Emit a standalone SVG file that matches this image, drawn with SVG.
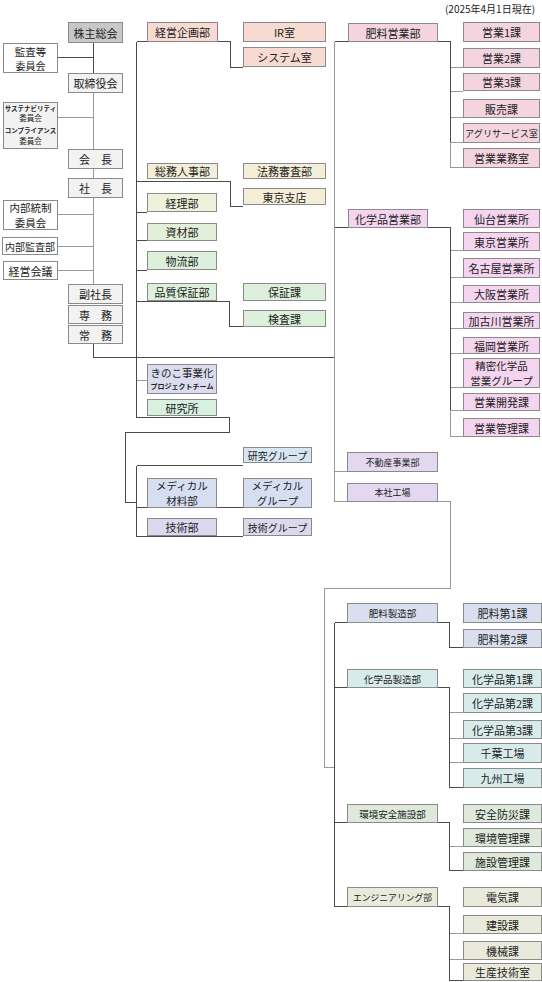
<svg xmlns="http://www.w3.org/2000/svg" width="542" height="982" viewBox="0 0 542 982">
<style>
rect{stroke:#8a8a8a;stroke-width:1;shape-rendering:crispEdges}
text{font-family:"Noto Sans CJK JP","Noto Sans CJK SC",sans-serif;font-size:11px;fill:#222;text-anchor:middle;dominant-baseline:central}
.s9{font-size:9px}.s95{font-size:9.5px}.s10{font-size:10px}.s7{font-size:6.5px;font-weight:bold}.t2{font-size:10.5px}
.d{stroke:#4a4a4a;stroke-width:1;fill:none;shape-rendering:crispEdges}
.g{stroke:#9a9a9a;stroke-width:1;fill:none;shape-rendering:crispEdges}
.gy{fill:#f2f2f2}.wh{fill:#ffffff}
.pk1{fill:#f7dbd3}.cr{fill:#f4eed8}.yg{fill:#eef2da}.lg1{fill:#e3efd8}.lg2{fill:#dcf0dc}
.lv{fill:#dcdcf0}.rg{fill:#d8f0e0}.lb{fill:#d8e6f3}.md{fill:#d8def2}.tg{fill:#dcd8ef}
.pk2{fill:#f3d4df}.mg{fill:#f4d4ee}.pu{fill:#e3d8ef}.hb{fill:#d9dfee}.cy{fill:#d8ebeb}.ge{fill:#dee9dc}.be{fill:#e9eadc}
</style>
<rect x="0" y="0" width="542" height="982" fill="#ffffff" style="stroke:none"/>
<text x="490" y="8" style="font-size:10px">(2025年4月1日現在)</text>

<g id="connectors">
<path class="d" d="M93.5 42V73M57 57.5H93.5"/>
<path class="g" d="M93.5 92V149M93.5 168V178M93.5 197V284M57 117.5H93.5M57 214.5H93.5M57 246.5H93.5M57 270.5H93.5"/>
<path class="d" d="M93.5 343V357.5H334.5"/>
<path class="d" d="M136.5 41.5V417.5M136.5 41.5H230.5V67.5H243"/>
<path class="d" d="M136.5 181.5H230.5V206.5H243M136.5 212.5H147M136.5 240.5H147M136.5 270.5H147M136.5 301.5H229.5V326.5H243"/>
<path class="g" d="M136.5 380.5H147"/>
<path class="d" d="M136.5 417.5H229.5V432.5H125.5V502.5H136.5M136.5 465.5V536.5M136.5 465.5H243M136.5 507.5H243M136.5 536.5H243"/>
<path class="g" d="M334.5 41.5V501.5"/>
<path class="d" d="M334.5 41.5H450.5V142.5"/>
<path class="g" d="M450.5 142V167.5H463M450.5 67.5H463M450.5 91.5H463M450.5 117.5H463M450.5 142.5H463"/>
<path class="d" d="M334.5 227.5H450.5V410"/>
<path class="g" d="M450.5 410V436.5H463M450.5 250.5H463M450.5 277.5H463M450.5 302.5H463M450.5 328.5H463M450.5 353.5H463M450.5 387.5H463M450.5 410.5H463"/>
<path class="g" d="M334.5 471.5H347M334.5 501.5H450.5V588.5H324.5V767.5H334.5"/>
<path class="d" d="M334.5 622.5V906.5"/>
<path class="d" d="M334.5 622.5H449.5V647.5H463M334.5 687.5H449.5V787.5H463M334.5 822.5H449.5V870.5H463M334.5 906.5H449.5V980.5H463"/>
<path class="g" d="M449.5 712.5H463M449.5 738.5H463M449.5 762.5H463M449.5 846.5H463M449.5 933.5H463M449.5 959.5H463"/>
</g>

<g id="kabunushi"><rect x="68.5" y="22.5" width="54" height="20" fill="#c8c8c8"/><text x="95.5" y="32.5">株主総会</text></g>
<g id="torishimari"><rect class="gy" x="68.5" y="73.5" width="54" height="19"/><text x="95.5" y="83">取締役会</text></g>
<g id="kaicho"><rect class="gy" x="68.5" y="149.5" width="54" height="19"/><text x="95.5" y="159">会　長</text></g>
<g id="shacho"><rect class="gy" x="68.5" y="178.5" width="54" height="19"/><text x="95.5" y="188">社　長</text></g>
<g id="fukushacho"><rect class="gy" x="68.5" y="284.5" width="54" height="19"/><text x="95.5" y="294">副社長</text></g>
<g id="senmu"><rect class="gy" x="68.5" y="305.5" width="54" height="18"/><text x="95.5" y="314.5">専　務</text></g>
<g id="jomu"><rect class="gy" x="68.5" y="325.5" width="54" height="18"/><text x="95.5" y="334.5">常　務</text></g>

<g id="kansa"><rect class="wh" x="3.5" y="43.5" width="54" height="29"/><text x="30.5" y="51" class="t2">監査等</text><text x="30.5" y="65" class="s10">委員会</text></g>
<g id="sustain"><rect class="gy" x="3.5" y="102.5" width="54" height="46"/><text x="30.5" y="108" class="s7">サステナビリティ</text><text x="30.5" y="117.5" style="font-size:7.5px">委員会</text><text x="30.5" y="130" class="s7">コンプライアンス</text><text x="30.5" y="140" style="font-size:7.5px">委員会</text></g>
<g id="naibutosei"><rect class="wh" x="3.5" y="200.5" width="54" height="29"/><text x="30.5" y="207.5" class="t2">内部統制</text><text x="30.5" y="222" class="t2">委員会</text></g>
<g id="naibukansa"><rect class="wh" x="2.5" y="237.5" width="55" height="17"/><text x="30" y="246" class="s10">内部監査部</text></g>
<g id="keieikaigi"><rect class="wh" x="3.5" y="261.5" width="54" height="18"/><text x="30.5" y="270.5">経営会議</text></g>

<g id="keieikikaku"><rect class="pk1" x="147.5" y="22.5" width="70" height="19"/><text x="182.5" y="32">経営企画部</text></g>
<g id="ir"><rect class="pk1" x="243.5" y="22.5" width="82" height="19"/><text x="284.5" y="32">IR室</text></g>
<g id="system"><rect class="pk1" x="243.5" y="47.5" width="82" height="19"/><text x="284.5" y="57">システム室</text></g>
<g id="somu"><rect class="cr" x="147.5" y="163.5" width="70" height="15"/><text x="182.5" y="171">総務人事部</text></g>
<g id="homu"><rect class="cr" x="243.5" y="163.5" width="82" height="15"/><text x="284.5" y="171">法務審査部</text></g>
<g id="tokyoshiten"><rect class="cr" x="243.5" y="188.5" width="82" height="16"/><text x="284.5" y="196.5">東京支店</text></g>
<g id="keiri"><rect class="yg" x="147.5" y="193.5" width="69" height="18"/><text x="182" y="202.5">経理部</text></g>
<g id="shizai"><rect class="lg1" x="147.5" y="223.5" width="69" height="17"/><text x="182" y="232">資材部</text></g>
<g id="butsuryu"><rect class="lg2" x="147.5" y="251.5" width="69" height="18"/><text x="182" y="260.5">物流部</text></g>
<g id="hinshitsu"><rect class="lg2" x="147.5" y="283.5" width="69" height="17"/><text x="182" y="292">品質保証部</text></g>
<g id="hosho"><rect class="lg2" x="243.5" y="283.5" width="82" height="17"/><text x="284.5" y="292">保証課</text></g>
<g id="kensa"><rect class="lg2" x="243.5" y="310.5" width="82" height="16"/><text x="284.5" y="318.5">検査課</text></g>
<g id="kinoko"><rect class="lv" x="147.5" y="364.5" width="69" height="29"/><text x="182" y="372" class="t2">きのこ事業化</text><text x="182" y="386" style="font-size:7px;font-weight:bold">プロジェクトチーム</text></g>
<g id="kenkyujo"><rect class="rg" x="147.5" y="399.5" width="69" height="16"/><text x="182" y="407.5">研究所</text></g>
<g id="kenkyuG"><rect class="lb" x="243.5" y="447.5" width="68" height="15"/><text x="277.5" y="455" class="s10">研究グループ</text></g>
<g id="medical"><rect class="md" x="147.5" y="478.5" width="69" height="29"/><text x="182" y="485.5" class="t2">メディカル</text><text x="182" y="500" class="t2">材料部</text></g>
<g id="medicalG"><rect class="md" x="243.5" y="478.5" width="68" height="29"/><text x="277.5" y="485.5" class="t2">メディカル</text><text x="277.5" y="500" class="t2">グループ</text></g>
<g id="gijutsu"><rect class="tg" x="147.5" y="518.5" width="69" height="17"/><text x="182" y="527">技術部</text></g>
<g id="gijutsuG"><rect class="tg" x="243.5" y="518.5" width="68" height="17"/><text x="277.5" y="527" class="s10">技術グループ</text></g>

<g id="hiryoEigyo"><rect class="pk2" x="348.5" y="23.5" width="89" height="18"/><text x="393" y="32.5">肥料営業部</text></g>
<g id="eigyo1"><rect class="pk2" x="463.5" y="22.5" width="76" height="19"/><text x="501.5" y="32">営業1課</text></g>
<g id="eigyo2"><rect class="pk2" x="463.5" y="48.5" width="76" height="19"/><text x="501.5" y="58">営業2課</text></g>
<g id="eigyo3"><rect class="pk2" x="463.5" y="73.5" width="76" height="17"/><text x="501.5" y="82">営業3課</text></g>
<g id="hanbai"><rect class="pk2" x="463.5" y="99.5" width="76" height="18"/><text x="501.5" y="108.5">販売課</text></g>
<g id="agri"><rect class="pk2" x="463.5" y="123.5" width="76" height="19"/><text x="501.5" y="133" style="font-size:9.2px">アグリサービス室</text></g>
<g id="eigyogyomu"><rect class="pk2" x="463.5" y="148.5" width="76" height="19"/><text x="501.5" y="158">営業業務室</text></g>

<g id="kagakuEigyo"><rect class="mg" x="348.5" y="209.5" width="79" height="18"/><text x="388" y="218.5">化学品営業部</text></g>
<g id="sendai"><rect class="mg" x="463.5" y="209.5" width="76" height="18"/><text x="501.5" y="218.5">仙台営業所</text></g>
<g id="tokyoeigyo"><rect class="mg" x="463.5" y="232.5" width="76" height="18"/><text x="501.5" y="241.5">東京営業所</text></g>
<g id="nagoya"><rect class="mg" x="463.5" y="258.5" width="76" height="19"/><text x="501.5" y="268">名古屋営業所</text></g>
<g id="osaka"><rect class="mg" x="463.5" y="285.5" width="76" height="17"/><text x="501.5" y="294">大阪営業所</text></g>
<g id="kakogawa"><rect class="mg" x="463.5" y="312.5" width="76" height="16"/><text x="501.5" y="320.5">加古川営業所</text></g>
<g id="fukuoka"><rect class="mg" x="463.5" y="337.5" width="76" height="16"/><text x="501.5" y="345.5">福岡営業所</text></g>
<g id="seimitsu"><rect class="mg" x="463.5" y="358.5" width="76" height="29"/><text x="501.5" y="365.5" class="t2">精密化学品</text><text x="501.5" y="380" class="t2">営業グループ</text></g>
<g id="eigyokaihatsu"><rect class="mg" x="463.5" y="393.5" width="76" height="17"/><text x="501.5" y="402">営業開発課</text></g>
<g id="eigyokanri"><rect class="mg" x="463.5" y="418.5" width="76" height="18"/><text x="501.5" y="427.5">営業管理課</text></g>

<g id="fudosan"><rect class="pu" x="347.5" y="452.5" width="90" height="19"/><text x="392.5" y="462" class="s9">不動産事業部</text></g>
<g id="honsha"><rect class="pu" x="347.5" y="483.5" width="90" height="18"/><text x="392.5" y="492.5" class="s9">本社工場</text></g>

<g id="hiryoSeizo"><rect class="hb" x="347.5" y="603.5" width="90" height="19"/><text x="392.5" y="613" class="s95">肥料製造部</text></g>
<g id="hiryo1"><rect class="hb" x="463.5" y="603.5" width="78" height="19"/><text x="502.5" y="613">肥料第1課</text></g>
<g id="hiryo2"><rect class="hb" x="463.5" y="629.5" width="78" height="18"/><text x="502.5" y="638.5">肥料第2課</text></g>

<g id="kagakuSeizo"><rect class="cy" x="347.5" y="669.5" width="90" height="18"/><text x="392.5" y="678.5" class="s95">化学品製造部</text></g>
<g id="kagaku1"><rect class="cy" x="463.5" y="669.5" width="78" height="18"/><text x="502.5" y="678.5">化学品第1課</text></g>
<g id="kagaku2"><rect class="cy" x="463.5" y="693.5" width="78" height="19"/><text x="502.5" y="703">化学品第2課</text></g>
<g id="kagaku3"><rect class="cy" x="463.5" y="720.5" width="78" height="18"/><text x="502.5" y="729.5">化学品第3課</text></g>
<g id="chiba"><rect class="cy" x="463.5" y="743.5" width="78" height="19"/><text x="502.5" y="753">千葉工場</text></g>
<g id="kyushu"><rect class="cy" x="463.5" y="768.5" width="78" height="19"/><text x="502.5" y="778">九州工場</text></g>

<g id="kankyo"><rect class="ge" x="347.5" y="804.5" width="90" height="18"/><text x="392.5" y="813.5" class="s95">環境安全施設部</text></g>
<g id="anzen"><rect class="ge" x="463.5" y="804.5" width="78" height="18"/><text x="502.5" y="813.5">安全防災課</text></g>
<g id="kankyokanri"><rect class="ge" x="463.5" y="828.5" width="78" height="18"/><text x="502.5" y="837.5">環境管理課</text></g>
<g id="shisetsu"><rect class="ge" x="463.5" y="852.5" width="78" height="18"/><text x="502.5" y="861.5">施設管理課</text></g>

<g id="engineering"><rect class="be" x="347.5" y="887.5" width="90" height="19"/><text x="392.5" y="897" style="font-size:8.8px">エンジニアリング部</text></g>
<g id="denki"><rect class="be" x="463.5" y="887.5" width="78" height="19"/><text x="502.5" y="897">電気課</text></g>
<g id="kensetsu"><rect class="be" x="463.5" y="915.5" width="78" height="18"/><text x="502.5" y="924.5">建設課</text></g>
<g id="kikai"><rect class="be" x="463.5" y="941.5" width="78" height="18"/><text x="502.5" y="950.5">機械課</text></g>
<g id="seisan"><rect class="be" x="463.5" y="963.5" width="78" height="17"/><text x="502.5" y="972">生産技術室</text></g>
</svg>
